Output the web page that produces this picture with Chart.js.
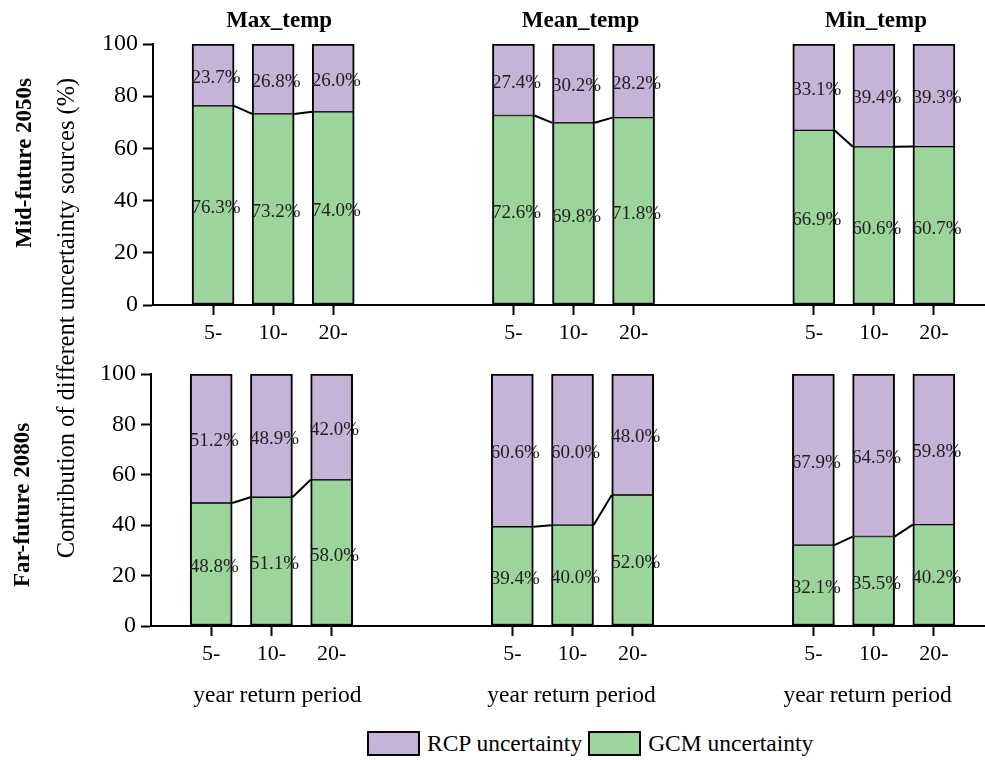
<!DOCTYPE html>
<html>
<head>
<meta charset="utf-8">
<script src="https://cdn.jsdelivr.net/npm/chart.js@4.4.0/dist/chart.umd.min.js"></script>
<style>
    body { margin: 0; width: 985px; height: 760px; background: #fff; overflow: hidden; position: relative; font-family: "Liberation Serif", serif; color: #000; }
    .wrap { position: absolute; left: 0; width: 985px; }
    .rot { position: absolute; transform: translate(-50%, -50%) rotate(-90deg); white-space: nowrap; font-size: 24.5px; }
    .bold { font-weight: bold; font-size: 23px; }
    #legend { position: absolute; left: 367px; top: 730px; display: flex; align-items: center; font-size: 23.5px; }
    #legend .box { width: 53px; height: 25px; border: 2px solid #000; box-sizing: border-box; margin-right: 7px; }
    #legend .txt { margin-right: 6px; }
</style>
</head>
<body>
<div class="wrap" style="top:0;height:350px"><canvas id="mid"></canvas></div>
<div class="wrap" style="top:330px;height:386px"><canvas id="far"></canvas></div>
<div class="rot bold" style="left:24px;top:163px">Mid-future 2050s</div>
<div class="rot bold" style="left:22px;top:505px">Far-future 2080s</div>
<div class="rot" style="left:66px;top:318px">Contribution of different uncertainty sources (%)</div>
<div id="legend"></div>
<script>
// Chart data
const periods = ["5-", "10-", "20-"];
const variables = ["Max_temp", "Mean_temp", "Min_temp"];
const midGCM = [76.3, 73.2, 74.0, 72.6, 69.8, 71.8, 66.9, 60.6, 60.7];
const midRCP = [23.7, 26.8, 26.0, 27.4, 30.2, 28.2, 33.1, 39.4, 39.3];
const farGCM = [48.8, 51.1, 58.0, 39.4, 40.0, 52.0, 32.1, 35.5, 40.2];
const farRCP = [51.2, 48.9, 42.0, 60.6, 60.0, 48.0, 67.9, 64.5, 59.8];
const yTicks = [0, 20, 40, 60, 80, 100];

const RCP_COLOR = "#c5b3d8", GCM_COLOR = "#9bd59b";
const FONT = "Liberation Serif";

// Each variable gets three slots, with two empty slots between groups
const slots = midGCM.map((_, i) => 1 + Math.floor(i / 3) * 5 + (i % 3));
const groupCenters = variables.map((_, g) => slots[g * 3 + 1]);
const xMax = 13.85;

// Legend
const legend = document.getElementById("legend");
legend.innerHTML = `
    <span class="box" style="background:${RCP_COLOR}"></span><span class="txt">RCP uncertainty</span>
    <span class="box" style="background:${GCM_COLOR}"></span><span class="txt">GCM uncertainty</span>
`;

// Lines between the tops of neighbouring GCM bars, and the value labels
const barDecor = {
    id: "barDecor",
    afterDatasetsDraw(chart) {
        const ctx = chart.ctx, gcm = chart.getDatasetMeta(0).data;
        ctx.save();
        ctx.strokeStyle = "#000";
        ctx.lineWidth = 2;
        for (let i = 0; i < gcm.length - 1; i++) {
            if (i % 3 === 2) continue;
            const a = gcm[i], b = gcm[i + 1];
            ctx.beginPath();
            ctx.moveTo(a.x + a.width / 2, a.y);
            ctx.lineTo(b.x - b.width / 2, b.y);
            ctx.stroke();
        }
        ctx.font = `19px "${FONT}"`;
        ctx.fillStyle = "#1e1e1e";
        ctx.textAlign = "center";
        ctx.textBaseline = "middle";
        chart.data.datasets.forEach((ds, d) => {
            chart.getDatasetMeta(d).data.forEach((bar, i) => {
                ctx.fillText(ds.data[i].y.toFixed(1) + "%", bar.x + 3, (bar.y + bar.base) / 2 + 3);
            });
        });
        ctx.restore();
    }
};

// Group texts above (titles) or below (axis caption) the plot
const groupText = {
    id: "groupText",
    afterDraw(chart, args, opts) {
        const ctx = chart.ctx, x = chart.scales.x;
        ctx.save();
        ctx.fillStyle = "#000";
        ctx.textAlign = "center";
        ctx.textBaseline = "middle";
        ctx.font = opts.font;
        groupCenters.forEach((c, g) => {
            ctx.fillText(opts.texts[g], x.getPixelForValue(c) + opts.dx[g], opts.y);
        });
        ctx.restore();
    }
};

const makeChart = (id, gcm, rcp, axisWidth, bottomPad, textOpts) => {
    const toPoints = arr => arr.map((v, i) => ({ x: slots[i], y: v }));
    const grid = { display: true, offset: false, drawOnChartArea: false, drawTicks: true, tickLength: 10, tickWidth: 2, tickColor: "#000" };
    return new Chart(document.getElementById(id), {
        type: "bar",
        data: {
            datasets: [
                {
                    label: "GCM uncertainty",
                    data: toPoints(gcm),
                    backgroundColor: GCM_COLOR,
                    borderColor: "#000",
                    borderWidth: { top: 1, left: 2, right: 2, bottom: 2 },
                    borderSkipped: false,
                    barThickness: 42
                },
                {
                    label: "RCP uncertainty",
                    data: toPoints(rcp),
                    backgroundColor: RCP_COLOR,
                    borderColor: "#000",
                    borderWidth: { top: 2, left: 2, right: 2, bottom: 1 },
                    borderSkipped: false,
                    barThickness: 42
                }
            ]
        },
        options: {
            animation: false,
            responsive: true,
            maintainAspectRatio: false,
            layout: { padding: { top: 44, right: 0, bottom: bottomPad, left: 0 } },
            plugins: {
                legend: { display: false },
                tooltip: { enabled: false },
                groupText: textOpts
            },
            scales: {
                x: {
                    type: "linear",
                    min: 0,
                    max: xMax,
                    offset: false,
                    stacked: true,
                    afterBuildTicks: s => { s.ticks = slots.map(v => ({ value: v })); },
                    afterFit: s => { s.height = 45; },
                    ticks: {
                        callback: (v, i) => periods[i % 3],
                        font: { family: FONT, size: 22 },
                        color: "#000",
                        padding: 5,
                        autoSkip: false,
                        maxRotation: 0
                    },
                    grid: grid,
                    border: { color: "#000", width: 2 }
                },
                y: {
                    min: 0,
                    max: 100,
                    stacked: true,
                    afterBuildTicks: s => { s.ticks = yTicks.map(v => ({ value: v })); },
                    afterFit: s => { s.width = axisWidth; },
                    ticks: { font: { family: FONT, size: 24 }, color: "#000", padding: 5 },
                    grid: grid,
                    border: { color: "#000", width: 2 }
                }
            }
        },
        plugins: [barDecor, groupText]
    });
};

makeChart("mid", midGCM, midRCP, 153, 0, { texts: variables, y: 21, dx: [6, 7, 2], font: `bold 23px "${FONT}"` });
makeChart("far", farGCM, farRCP, 151, 45, { texts: variables.map(() => "year return period"), y: 366, dx: [6, -1, -6], font: `23.5px "${FONT}"` });
</script>
</body>
</html>
